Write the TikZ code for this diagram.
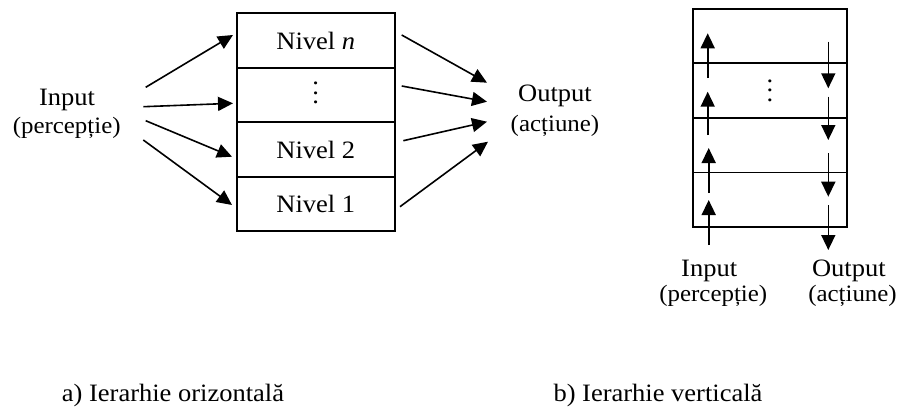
\documentclass[tikz,border=0pt]{standalone}
\usepackage{fontspec}
\setmainfont{Liberation Serif}[FakeStretch=1.06]
\usetikzlibrary{arrows.meta}
\tikzset{
  cell/.style={draw, line width=1.8pt, minimum width=158pt, minimum height=54.5pt, inner sep=0pt,
    text height=17pt, text depth=0pt, font=\fontsize{25}{30}\selectfont},
  vcell/.style={draw, line width=1.8pt, minimum width=153.4pt, minimum height=54.4pt, inner sep=0pt,
    font=\fontsize{25}{30}\selectfont},
  big/.style={inner sep=0pt, anchor=base, font=\fontsize{25}{30}\selectfont},
  small/.style={inner sep=0pt, anchor=base, font=\fontsize{23.5}{28}\selectfont},
  arr/.style={line width=1.6pt, -{Triangle[length=15pt,width=14pt]}}
}
\newcommand{\mydots}{\vbox{\baselineskip=9.4pt\hbox{.}\hbox{.}\hbox{.}}}
\begin{document}
\begin{tikzpicture}[x=1pt,y=-1pt]
\useasboundingbox (0,0) rectangle (900,407);
% ---------- a) horizontal hierarchy ----------
\node[cell] (ln) at (315.8,40.5) {Nivel \textit{n}};
\node[cell] (ld) at (315.8,95) {\mydots};
\node[cell] (l2) at (315.8,149.5) {Nivel 2};
\node[cell] (l1) at (315.8,204) {Nivel 1};

\node[big] (inA) at (67,105) {Input};
\node[small] (inAp) at (66.7,133) {(percepție)};
\node[big] (outA) at (555,101.7) {Output};
\node[small] (outAp) at (555,131.7) {(acțiune)};

\coordinate (i1s) at (145.7,87.3);  \coordinate (i1e) at (233,35);
\coordinate (i2s) at (143.3,106.7); \coordinate (i2e) at (233,103.3);
\coordinate (i3s) at (145.7,120.7); \coordinate (i3e) at (232,156.7);
\coordinate (i4s) at (143.3,140);   \coordinate (i4e) at (232,205);
\draw[arr] (i1s) -- (i1e);
\draw[arr] (i2s) -- (i2e);
\draw[arr] (i3s) -- (i3e);
\draw[arr] (i4s) -- (i4e);

\coordinate (o1s) at (401.7,35);    \coordinate (o1e) at (487,82.7);
\coordinate (o2s) at (401.7,86);    \coordinate (o2e) at (487,101.7);
\coordinate (o3s) at (403.3,140.7); \coordinate (o3e) at (487,121.7);
\coordinate (o4s) at (400,206.7);   \coordinate (o4e) at (488,141.7);
\draw[arr] (o1s) -- (o1e);
\draw[arr] (o2s) -- (o2e);
\draw[arr] (o3s) -- (o3e);
\draw[arr] (o4s) -- (o4e);

% ---------- b) vertical hierarchy ----------
\node[vcell] (r4) at (770,36.3) {};
\node[vcell] (r3) at (770,90.5) {\mydots};
\node[vcell] (r2) at (770,145.2) {};
\node[vcell] (r1) at (770,199.7) {};

\coordinate (u1s) at (708.7,245); \coordinate (u1e) at (708.7,200);
\coordinate (u2s) at (708.7,193); \coordinate (u2e) at (708.7,148);
\coordinate (u3s) at (707.7,135); \coordinate (u3e) at (707.7,91.7);
\coordinate (u4s) at (707.7,78);  \coordinate (u4e) at (707.7,33.3);
\draw[arr] (u1s) -- (u1e);
\draw[arr] (u2s) -- (u2e);
\draw[arr] (u3s) -- (u3e);
\draw[arr] (u4s) -- (u4e);

\coordinate (d1s) at (828.3,41.7); \coordinate (d1e) at (828.3,88.3);
\coordinate (d2s) at (828.3,96.7); \coordinate (d2e) at (828.3,140);
\coordinate (d3s) at (828.3,153);  \coordinate (d3e) at (828.3,196.7);
\coordinate (d4s) at (828.3,205);  \coordinate (d4e) at (828.3,250);
\draw[arr] (d1s) -- (d1e);
\draw[arr] (d2s) -- (d2e);
\draw[arr] (d3s) -- (d3e);
\draw[arr] (d4s) -- (d4e);

\node[big] (inB) at (709.2,276.7) {Input};
\node[small] (inBp) at (713.3,301.7) {(percepție)};
\node[big] (outB) at (848.8,276.7) {Output};
\node[small] (outBp) at (852.5,301.7) {(acțiune)};

% ---------- captions ----------
\node[big, anchor=base west] (capA) at (61.7,401.7) {a) Ierarhie orizontală};
\node[big, anchor=base west] (capB) at (553.3,401.7) {b) Ierarhie verticală};
\end{tikzpicture}
\end{document}
